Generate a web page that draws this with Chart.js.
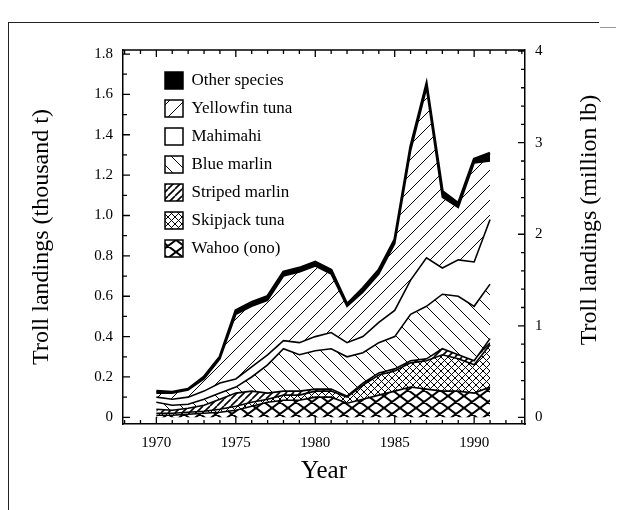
<!DOCTYPE html>
<html>
<head>
<meta charset="utf-8">
<script src="https://cdn.jsdelivr.net/npm/chart.js@4.4.1/dist/chart.umd.min.js"></script>
<style>
  body { margin: 0; background: #fff; }
  #wrap { position: relative; width: 619px; height: 510px; overflow: hidden; }
  #frame { position: absolute; left: 8px; top: 22px; width: 590px; height: 600px; border-left: 1.5px solid #222; border-top: 1.5px solid #222; }
  #dash { position: absolute; left: 600px; top: 27px; width: 16px; border-top: 1px solid #999; }
  canvas { position: absolute; left: 0; top: 0; }
</style>
</head>
<body>
<div id="wrap">
  <div id="frame"></div>
  <div id="dash"></div>
  <canvas id="trollChart" width="619" height="510"></canvas>
</div>
<script>
// Năm và sản lượng (nghìn tấn) từng loài
const years = [1970, 1971, 1972, 1973, 1974, 1975, 1976, 1977, 1978, 1979, 1980,
               1981, 1982, 1983, 1984, 1985, 1986, 1987, 1988, 1989, 1990, 1991];

const wahoo    = [0.01, 0.01, 0.015, 0.02, 0.025, 0.035, 0.055, 0.075, 0.085, 0.085, 0.10,
                  0.10, 0.07, 0.09, 0.11, 0.13, 0.15, 0.14, 0.13, 0.13, 0.12, 0.15];
const skipjack = [0.01, 0.01, 0.01, 0.01, 0.015, 0.02, 0.02, 0.015, 0.025, 0.025, 0.03,
                  0.03, 0.03, 0.07, 0.10, 0.10, 0.12, 0.14, 0.18, 0.16, 0.14, 0.21];
const striped  = [0.02, 0.015, 0.02, 0.03, 0.05, 0.065, 0.055, 0.03, 0.02, 0.02, 0.01,
                  0.01, 0.005, 0.01, 0.01, 0.01, 0.01, 0.01, 0.03, 0.02, 0.02, 0.03];
const blue     = [0.035, 0.025, 0.02, 0.03, 0.03, 0.03, 0.07, 0.14, 0.21, 0.18, 0.19,
                  0.20, 0.195, 0.15, 0.15, 0.16, 0.23, 0.26, 0.27, 0.29, 0.27, 0.27];
const mahimahi = [0.025, 0.03, 0.035, 0.04, 0.05, 0.04, 0.05, 0.05, 0.04, 0.06, 0.07,
                  0.08, 0.07, 0.08, 0.10, 0.13, 0.17, 0.24, 0.13, 0.18, 0.22, 0.32];
const yellowfin = [0.02, 0.03, 0.035, 0.06, 0.12, 0.32, 0.30, 0.27, 0.32, 0.35, 0.35,
                   0.29, 0.18, 0.22, 0.24, 0.33, 0.64, 0.84, 0.35, 0.26, 0.49, 0.29];
const other    = [0.01, 0.005, 0.005, 0.01, 0.01, 0.02, 0.02, 0.02, 0.02, 0.02, 0.02,
                  0.02, 0.01, 0.02, 0.02, 0.02, 0.02, 0.02, 0.03, 0.02, 0.02, 0.04];

const xTickValues = [1970, 1975, 1980, 1985, 1990];
const yTickValues = [0, 0.2, 0.4, 0.6, 0.8, 1.0, 1.2, 1.4, 1.6, 1.8];
const yTickLabels = ['0', '0.2', '0.4', '0.6', '0.8', '1.0', '1.2', '1.4', '1.6', '1.8'];
const y2TickValues = [0, 1, 2, 3, 4];
const y2TickLabels = ['0', '1', '2', '3', '4'];

const LB_PER_KG = 2.20462;
const Y_MIN = -0.033, Y_MAX = 1.82;
const SERIF = "'Liberation Serif', 'Times New Roman', serif";
const RIGHT_TITLE = 'Troll landings (million lb)';

// Tạo mẫu gạch chéo
function hatch(w, h, dirs, lw) {
    const c = document.createElement('canvas');
    c.width = w; c.height = h;
    const g = c.getContext('2d');
    g.fillStyle = '#fff';
    g.fillRect(0, 0, w, h);
    g.strokeStyle = '#000';
    g.lineWidth = lw;
    g.beginPath();
    for (const k of [-w, 0, w]) {
        if (dirs.includes('/')) { g.moveTo(k, h); g.lineTo(k + w, 0); }
        if (dirs.includes('\\')) { g.moveTo(k, 0); g.lineTo(k + w, h); }
    }
    g.stroke();
    return g.createPattern(c, 'repeat');
}

const fills = {
    wahoo: hatch(16, 12, '/\\', 2),
    skipjack: hatch(7, 7, '/\\', 1),
    striped: hatch(7, 7, '/', 1.6),
    blue: hatch(15, 15, '\\', 1),
    mahimahi: '#fff',
    yellowfin: hatch(15, 15, '/', 1),
    other: '#000'
};

function layer(label, data, bg, fill, bw) {
    return {
        label: label,
        data: data,
        backgroundColor: bg,
        borderColor: '#000',
        borderWidth: bw || 1.6,
        fill: fill,
        pointRadius: 0,
        tension: 0
    };
}

// Vạch chia hướng vào trong và khung trên
const innerTicks = {
    id: 'innerTicks',
    afterDraw(chart) {
        const { ctx, chartArea: a, scales } = chart;
        ctx.save();
        ctx.strokeStyle = '#000';
        ctx.lineWidth = 1.3;
        ctx.beginPath();
        ctx.moveTo(a.left, a.top); ctx.lineTo(a.right, a.top);
        for (let yr = 1968; yr <= 1993; yr++) {
            const px = scales.x.getPixelForValue(yr);
            const len = yr % 5 === 0 ? 7 : 4;
            ctx.moveTo(px, a.bottom); ctx.lineTo(px, a.bottom - len);
            ctx.moveTo(px, a.top); ctx.lineTo(px, a.top + len);
        }
        for (let i = 0; i <= 18; i++) {
            const py = scales.y.getPixelForValue(i / 10);
            const len = i % 2 === 0 ? 7 : 4;
            ctx.moveTo(a.left, py); ctx.lineTo(a.left + len, py);
        }
        for (let i = 0; i <= 20; i++) {
            const py = scales.y2.getPixelForValue(i / 5);
            const len = i % 5 === 0 ? 7 : 4;
            ctx.moveTo(a.right, py); ctx.lineTo(a.right - len, py);
        }
        ctx.stroke();
        // tiêu đề trục phải (đọc từ dưới lên)
        ctx.translate(590, 220);
        ctx.rotate(-Math.PI / 2);
        ctx.fillStyle = '#000';
        ctx.font = '24px ' + SERIF;
        ctx.textAlign = 'center';
        ctx.textBaseline = 'middle';
        ctx.fillText(RIGHT_TITLE, 0, 0);
        ctx.restore();
    }
};

// Dời chú giải vào góc trên trái vùng vẽ
const legendShift = {
    id: 'legendShift',
    afterLayout(chart) {
        const lg = chart.legend;
        if (lg) {
            lg.left = chart.chartArea.left + 31;
            lg.top = chart.chartArea.top + 11;
        }
    }
};

function initTrollChart() {
    const el = document.getElementById('trollChart');
    Chart.defaults.font.family = SERIF;
    Chart.defaults.color = '#000';
    new Chart(el.getContext('2d'), {
        type: 'line',
        data: {
            labels: years,
            datasets: [
                layer('Wahoo (ono)', wahoo, fills.wahoo, 'origin'),
                layer('Skipjack tuna', skipjack, fills.skipjack, '-1'),
                layer('Striped marlin', striped, fills.striped, '-1'),
                layer('Blue marlin', blue, fills.blue, '-1'),
                layer('Mahimahi', mahimahi, fills.mahimahi, '-1'),
                layer('Yellowfin tuna', yellowfin, fills.yellowfin, '-1'),
                layer('Other species', other, fills.other, '-1', 2.8)
            ].map(ds => ({ ...ds, data: ds.data.map((v, i) => ({ x: years[i], y: v })) }))
        },
        options: {
            responsive: false,
            animation: false,
            devicePixelRatio: 1,
            layout: { padding: { left: 0, right: 0, top: 50, bottom: 0 } },
            plugins: {
                legend: {
                    position: 'chartArea',
                    align: 'start',
                    reverse: true,
                    labels: {
                        boxWidth: 18,
                        boxHeight: 17,
                        padding: 11,
                        font: { size: 17 },
                        color: '#000',
                        generateLabels(chart) {
                            return chart.data.datasets.map((ds, i) => ({
                                text: ds.label,
                                fillStyle: ds.backgroundColor,
                                strokeStyle: '#000',
                                lineWidth: 1.5,
                                hidden: false,
                                datasetIndex: i
                            }));
                        }
                    }
                },
                tooltip: { enabled: false }
            },
            scales: {
                x: {
                    type: 'linear',
                    min: 1967.9,
                    max: 1993.2,
                    afterFit(s) { s.height = 86; },
                    afterBuildTicks(s) { s.ticks = xTickValues.map(v => ({ value: v })); },
                    ticks: {
                        font: { size: 15 },
                        padding: 10,
                        maxRotation: 0,
                        callback: v => String(v)
                    },
                    grid: { display: false, drawTicks: false },
                    border: { display: true, color: '#000', width: 1.5 },
                    title: {
                        display: true,
                        text: 'Year',
                        font: { size: 25 },
                        padding: { top: 0, bottom: 24 }
                    }
                },
                y: {
                    type: 'linear',
                    stacked: true,
                    min: Y_MIN,
                    max: Y_MAX,
                    afterFit(s) { s.width = 123; },
                    afterBuildTicks(s) { s.ticks = yTickValues.map(v => ({ value: v })); },
                    ticks: {
                        font: { size: 15 },
                        padding: 10,
                        callback: (v, i) => yTickLabels[i]
                    },
                    grid: { display: false, drawTicks: false },
                    border: { display: true, color: '#000', width: 1.5 },
                    title: {
                        display: true,
                        text: 'Troll landings (thousand t)',
                        font: { size: 24 },
                        padding: { top: 27, bottom: 0 }
                    }
                },
                y2: {
                    type: 'linear',
                    position: 'right',
                    min: Y_MIN * LB_PER_KG,
                    max: Y_MAX * LB_PER_KG,
                    afterFit(s) { s.width = 94; },
                    afterBuildTicks(s) { s.ticks = y2TickValues.map(v => ({ value: v })); },
                    ticks: {
                        font: { size: 15 },
                        padding: 10,
                        callback: (v, i) => y2TickLabels[i]
                    },
                    grid: { display: false, drawTicks: false },
                    border: { display: true, color: '#000', width: 1.5 }
                }
            }
        },
        plugins: [innerTicks, legendShift]
    });
}

document.addEventListener('DOMContentLoaded', function() {
    initTrollChart();
});
</script>
</body>
</html>
